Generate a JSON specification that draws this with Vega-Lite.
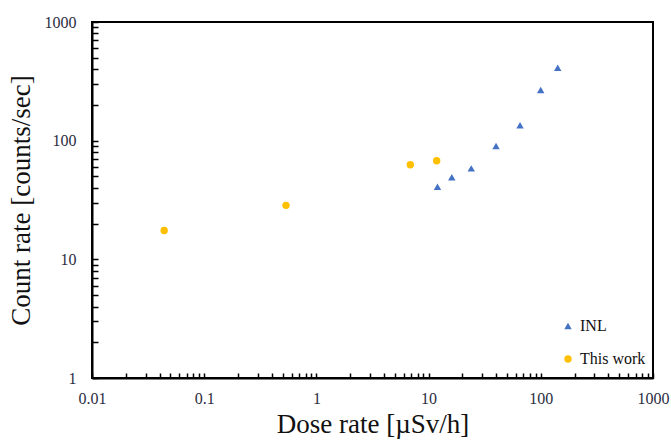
{
  "$schema": "https://vega.github.io/schema/vega-lite/v6.json",
  "width": 561,
  "height": 356,
  "autosize": "none",
  "padding": {"left": 92, "top": 22, "right": 18, "bottom": 63},
  "background": "white",
  "config": {
    "view": {"stroke": "black", "strokeWidth": 2},
    "font": "Liberation Serif",
    "axis": {"ticks": true, "tickColor": "#000000", "tickOpacity": 1}
  },
  "data": {
    "values": [
      {"dose": 12.0, "count": 40.9, "series": "INL"},
      {"dose": 16.1, "count": 49.1, "series": "INL"},
      {"dose": 24.0, "count": 58.4, "series": "INL"},
      {"dose": 39.9, "count": 90.1, "series": "INL"},
      {"dose": 65.3, "count": 135, "series": "INL"},
      {"dose": 99.8, "count": 267, "series": "INL"},
      {"dose": 141.5, "count": 411, "series": "INL"},
      {"dose": 0.044, "count": 17.5, "series": "This work"},
      {"dose": 0.536, "count": 28.5, "series": "This work"},
      {"dose": 6.87, "count": 62.7, "series": "This work"},
      {"dose": 11.8, "count": 67.7, "series": "This work"}
    ]
  },
  "mark": {"type": "point", "filled": true, "opacity": 1, "size": 55},
  "encoding": {
    "x": {
      "field": "dose", "type": "quantitative",
      "scale": {"type": "log", "domain": [0.01, 1000], "nice": false},
      "axis": {
        "title": "Dose rate [µSv/h]",
        "values": [0.01,0.02,0.03,0.04,0.05,0.06,0.07,0.08,0.09,0.1,0.2,0.3,0.4,0.5,0.6,0.7,0.8,0.9,1,2,3,4,5,6,7,8,9,10,20,30,40,50,60,70,80,90,100,200,300,400,500,600,700,800,900,1000],
        "labelExpr": "indexof([0.01,0.1,1,10,100,1000], datum.value) >= 0 ? '' + datum.value : ''",
        "tickSize": -5,
        "tickWidth": 1.5,
        "domainColor": "black",
        "domainWidth": 2,
        "grid": false,
        "labelFont": "Liberation Serif",
        "labelFontSize": 16,
        "labelColor": "#2a2d40",
        "labelPadding": 17,
        "labelFlush": false,
        "labelOverlap": false,
        "titleFont": "Liberation Serif",
        "titleFontSize": 27,
        "titleFontWeight": "normal",
        "titleColor": "#111111",
        "titlePadding": 5
      }
    },
    "y": {
      "field": "count", "type": "quantitative",
      "scale": {"type": "log", "domain": [1, 1000], "nice": false},
      "axis": {
        "title": "Count rate [counts/sec]",
        "values": [1,2,3,4,5,6,7,8,9,10,20,30,40,50,60,70,80,90,100,200,300,400,500,600,700,800,900,1000],
        "labelExpr": "indexof([1,10,100,1000], datum.value) >= 0 ? '' + datum.value : ''",
        "tickSize": -6,
        "tickWidth": 1.5,
        "domainColor": "black",
        "domainWidth": 2,
        "grid": false,
        "labelFont": "Liberation Serif",
        "labelFontSize": 16,
        "labelColor": "#2a2d40",
        "labelPadding": 22,
        "labelFlush": false,
        "labelOverlap": false,
        "titleFont": "Liberation Serif",
        "titleFontSize": 27,
        "titleFontWeight": "normal",
        "titleColor": "#111111",
        "titlePadding": 9
      }
    },
    "shape": {
      "field": "series", "type": "nominal",
      "scale": {"domain": ["INL", "This work"], "range": ["triangle-up", "circle"]},
      "legend": null
    },
    "color": {
      "field": "series", "type": "nominal",
      "scale": {"domain": ["INL", "This work"], "range": ["#4472C4", "#FFC000"]},
      "legend": {
        "title": null,
        "orient": "none",
        "legendX": 468,
        "legendY": 296,
        "symbolType": "circle",
        "symbolSize": 55,
        "symbolOpacity": 1,
        "labelFont": "Liberation Serif",
        "labelFontSize": 16,
        "labelColor": "#111111",
        "rowPadding": 17,
        "labelOffset": 4,
        "padding": 0
      }
    }
  }
}
